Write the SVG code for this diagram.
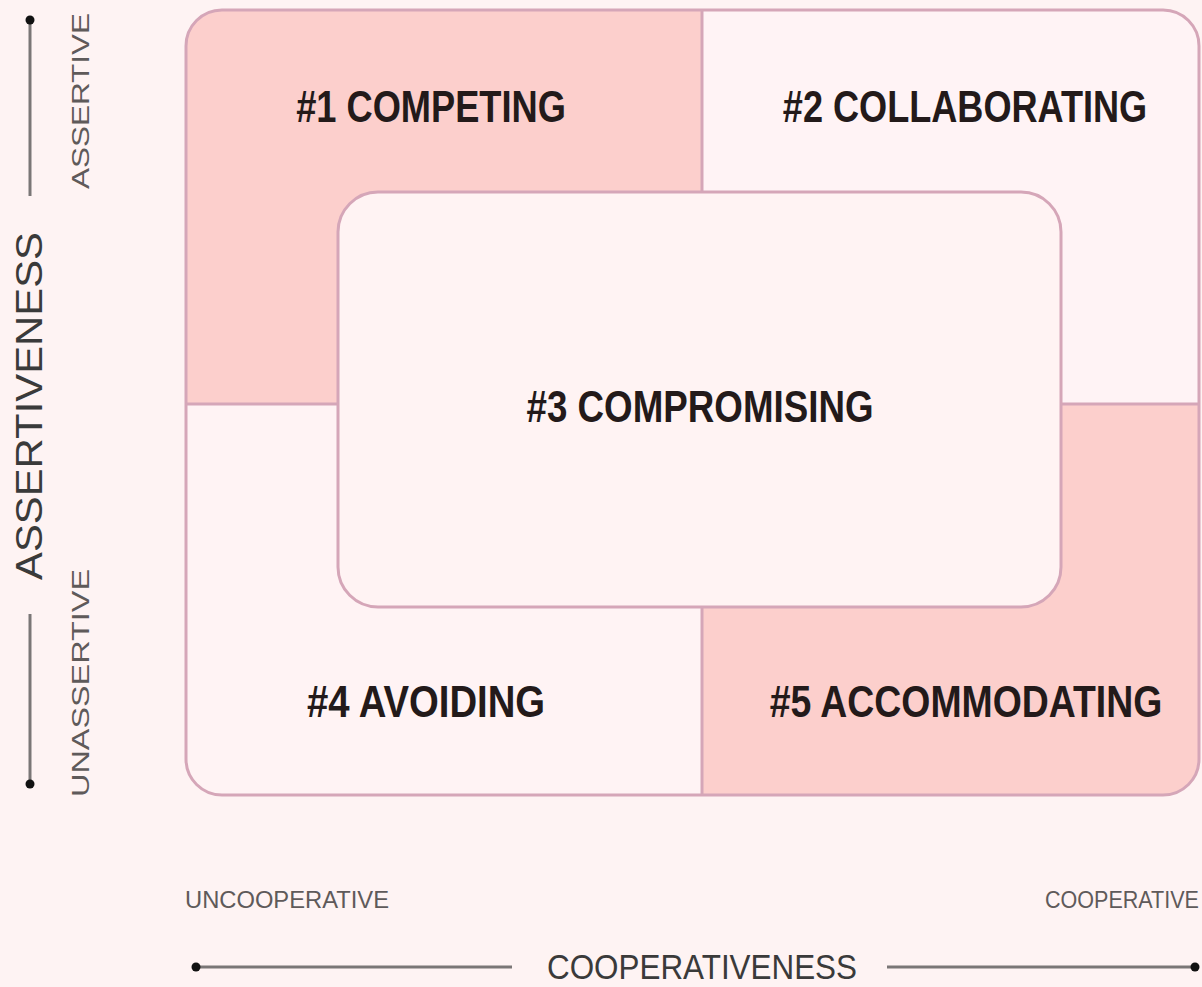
<svg xmlns="http://www.w3.org/2000/svg" width="1202" height="987" viewBox="0 0 1202 987">
<style>
.lbl{font-family:"Liberation Sans",Arial,sans-serif;font-weight:bold;font-size:44px;fill:#231a1a;text-anchor:middle}
.ax{font-family:"Liberation Sans",Arial,sans-serif;font-size:36px;fill:#3a3a3a;text-anchor:middle}
.sm{font-family:"Liberation Sans",Arial,sans-serif;font-size:24px;fill:#5f5a5a}
.bd{stroke:#d5a6b8;stroke-width:3;fill:none}
.axl{stroke:#7a7676;stroke-width:3}
</style>
<defs>
<clipPath id="outer"><rect x="186" y="10" width="1013" height="785" rx="36"/></clipPath>
</defs>
<rect width="1202" height="987" fill="#fef3f3"/>
<g id="quadrants" clip-path="url(#outer)">
<g id="competing"><rect x="186" y="10" width="516" height="394" fill="#fccfcc"/></g>
<g id="collaborating"><rect x="702" y="10" width="497" height="394" fill="#fff3f5"/></g>
<g id="avoiding"><rect x="186" y="404" width="516" height="391" fill="#fff3f4"/></g>
<g id="accommodating"><rect x="702" y="404" width="497" height="391" fill="#fccfcc"/></g>
</g>
<g id="dividers">
<rect class="bd" x="186" y="10" width="1013" height="785" rx="36"/>
<line class="bd" x1="702" y1="10" x2="702" y2="192"/>
<line class="bd" x1="702" y1="607" x2="702" y2="795"/>
<line class="bd" x1="186" y1="404" x2="338" y2="404"/>
<line class="bd" x1="1061" y1="404" x2="1199" y2="404"/>
</g>
<g id="compromising">
<rect x="338" y="192" width="723" height="415" rx="40" fill="#fff3f3" stroke="#d5a6b8" stroke-width="3"/>
<text class="lbl" transform="translate(700,422) scale(0.83,1)" textLength="418" lengthAdjust="spacingAndGlyphs">#3 COMPROMISING</text>
</g>
<g id="labels">
<text class="lbl" transform="translate(431,122) scale(0.83,1)" textLength="325" lengthAdjust="spacingAndGlyphs">#1 COMPETING</text>
<text class="lbl" transform="translate(965,122) scale(0.83,1)" textLength="439" lengthAdjust="spacingAndGlyphs">#2 COLLABORATING</text>
<text class="lbl" transform="translate(426,717) scale(0.83,1)" textLength="287" lengthAdjust="spacingAndGlyphs">#4 AVOIDING</text>
<text class="lbl" transform="translate(966,717) scale(0.83,1)" textLength="473" lengthAdjust="spacingAndGlyphs">#5 ACCOMMODATING</text>
</g>
<g id="axes">
<line class="axl" x1="30" y1="18" x2="30" y2="196"/>
<circle cx="30" cy="20" r="4.5" fill="#111"/>
<line class="axl" x1="30" y1="614" x2="30" y2="786"/>
<circle cx="30" cy="784" r="4.5" fill="#111"/>
<text class="ax" transform="translate(42,406) rotate(-90)" textLength="348" lengthAdjust="spacingAndGlyphs">ASSERTIVENESS</text>
<text class="sm" transform="translate(89,189) rotate(-90)" textLength="176" lengthAdjust="spacingAndGlyphs">ASSERTIVE</text>
<text class="sm" transform="translate(89,797) rotate(-90)" textLength="228" lengthAdjust="spacingAndGlyphs">UNASSERTIVE</text>
<text class="sm" x="185" y="908" textLength="204" lengthAdjust="spacingAndGlyphs">UNCOOPERATIVE</text>
<text class="sm" transform="translate(1045,908) scale(0.87,1)" textLength="177" lengthAdjust="spacingAndGlyphs">COOPERATIVE</text>
<line class="axl" x1="194" y1="967" x2="512" y2="967"/>
<circle cx="196" cy="967" r="4.5" fill="#111"/>
<line class="axl" x1="887" y1="967" x2="1196" y2="967"/>
<circle cx="1195" cy="967" r="4.5" fill="#111"/>
<text class="ax" x="702" y="979" style="font-size:35px" textLength="310" lengthAdjust="spacingAndGlyphs">COOPERATIVENESS</text>
</g>
</svg>
